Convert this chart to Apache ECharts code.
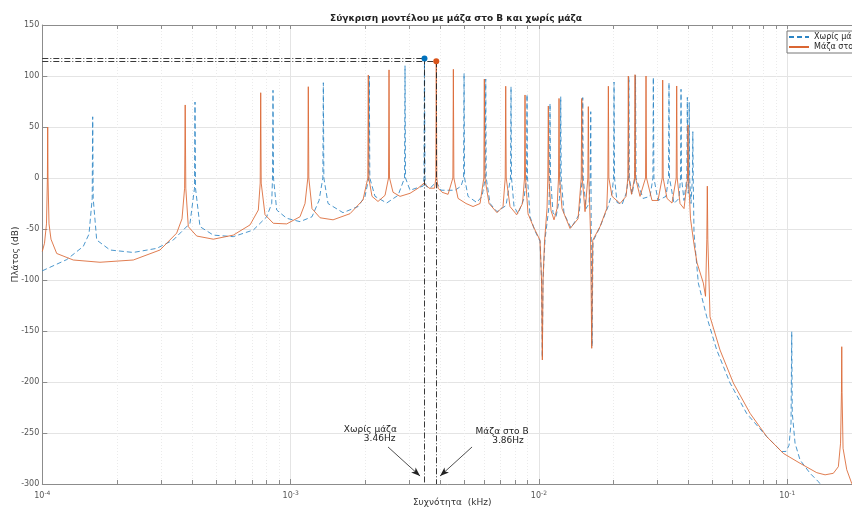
<!DOCTYPE html>
<html><head><meta charset="utf-8">
<script src="https://cdn.jsdelivr.net/npm/echarts@6/dist/echarts.min.js"></script>
<style>html,body{margin:0;padding:0;background:#fff}#c{width:852px;height:511px}</style>
</head><body><div id="c"></div>
<script>
// ---- data (frequency in kHz, amplitude in dB) ----
const noMassFreq = [1.0000e-4,1.2540e-4,1.4627e-4,1.5420e-4,1.5884e-4,1.5958e-4,1.6032e-4,1.6560e-4,1.8740e-4,2.3253e-4,2.8889e-4,3.3692e-4,3.9338e-4,4.1018e-4,4.1208e-4,4.1400e-4,4.3161e-4,4.8844e-4,5.8775e-4,7.0775e-4,8.0116e-4,8.3918e-4,8.4544e-4,8.4937e-4,8.5331e-4,8.7900e-4,9.6448e-4,1.0910e-3,1.2194e-3,1.3017e-3,1.3483e-3,1.3546e-3,1.3609e-3,1.4147e-3,1.6256e-3,1.8680e-3,1.9935e-3,2.0648e-3,2.0745e-3,2.0841e-3,2.1869e-3,2.4382e-3,2.7078e-3,2.8757e-3,2.8890e-3,2.9025e-3,3.0261e-3,3.1999e-3,3.4147e-3,3.4441e-3,3.4600e-3,3.4761e-3,3.5111e-3,3.6438e-3,3.8600e-3,4.0352e-3,4.2662e-3,4.5943e-3,4.8572e-3,4.9710e-3,4.9942e-3,5.0174e-3,5.1830e-3,5.6174e-3,5.9008e-3,6.0783e-3,6.1065e-3,6.1349e-3,6.3548e-3,6.7800e-3,7.3704e-3,7.6842e-3,7.7199e-3,7.7559e-3,7.9377e-3,8.2374e-3,8.7093e-3,8.9136e-3,8.9550e-3,8.9966e-3,9.2082e-3,9.6447e-3,1.0103e-2,1.0244e-2,1.0320e-2,1.0387e-2,1.0582e-2,1.0981e-2,1.1032e-2,1.1083e-2,1.1134e-2,1.1396e-2,1.1717e-2,1.2104e-2,1.2183e-2,1.2240e-2,1.2297e-2,1.2619e-2,1.3470e-2,1.4505e-2,1.4943e-2,1.5012e-2,1.5082e-2,1.5477e-2,1.5914e-2,1.6092e-2,1.6167e-2,1.6242e-2,1.6363e-2,1.6515e-2,1.7621e-2,1.8984e-2,1.9700e-2,1.9975e-2,2.0068e-2,2.0161e-2,2.0633e-2,2.1612e-2,2.2533e-2,2.2912e-2,2.3018e-2,2.3125e-2,2.3712e-2,2.4378e-2,2.4492e-2,2.4606e-2,2.6256e-2,2.8035e-2,2.8773e-2,2.8888e-2,2.9041e-2,3.0164e-2,3.2487e-2,3.3248e-2,3.3403e-2,3.3558e-2,3.4988e-2,3.6659e-2,3.7172e-2,3.7345e-2,3.7518e-2,3.8398e-2,3.9409e-2,3.9592e-2,3.9776e-2,3.9924e-2,4.0147e-2,4.0296e-2,4.0446e-2,4.0973e-2,4.1508e-2,4.1662e-2,4.1817e-2,4.2120e-2,4.3836e-2,4.7388e-2,5.2003e-2,5.8838e-2,6.8704e-2,8.2713e-2,9.5031e-2,9.8893e-2,1.0168e-1,1.0358e-1,1.0425e-1,1.0474e-1,1.0750e-1,1.1262e-1,1.2357e-1,1.3344e-1,1.4203e-1];
const noMassDb = [-91,-80,-67,-55,-20,60,-20,-60.8,-70.6,-73,-69,-60.8,-44.4,-10,74.5,-10,-47.7,-56,-57.5,-51,-38,-25,0,86,0,-31.4,-39.5,-42.8,-38,-22,0,93.4,0,-25,-34,-28,-18,0,100,0,-18,-24.5,-17,0,110,0,-12,-10,-8,0,117.2,0,-8,-10,-4,-12,-12,-12,-8,0,102.6,0,-18,-24,-18,0,97,0,-25,-33,-27,0,89.5,0,-28,-35,-20,0,82,0,-38,-52,-62,-100,-176,-100,-60,-28,0,73,0,-34,-38,-20,0,79.7,0,-35,-49,-36,0,78.8,0,-30,-25,0,65,-60,-165,-62,-48,-28,-15,0,94.1,0,-24,-26,-14,0,99,0,-16,0,100.5,0,-20,-18,0,98.7,0,-22,-18,0,93.4,0,-25,-20,0,87,0,-22,0,79,0,-15,0,74,0,-25,0,45.4,0,-54,-103,-136,-168.6,-201,-231,-253.6,-268.3,-268,-262,-240,-150.7,-230,-260,-276.5,-289.5,-297.7,-306];

const massFreq = [1.0000e-4,1.0206e-4,1.0397e-4,1.0484e-4,1.0514e-4,1.0543e-4,1.0641e-4,1.0840e-4,1.1429e-4,1.3327e-4,1.7077e-4,2.3253e-4,2.9785e-4,3.4770e-4,3.6525e-4,3.7416e-4,3.7624e-4,3.7834e-4,3.8726e-4,4.1862e-4,4.8844e-4,5.8775e-4,6.8642e-4,7.4118e-4,7.5435e-4,7.5785e-4,7.6138e-4,7.8868e-4,8.5175e-4,9.6448e-4,1.0910e-3,1.1429e-3,1.1729e-3,1.1783e-3,1.1838e-3,1.2194e-3,1.3138e-3,1.4821e-3,1.7346e-3,1.9567e-3,2.0458e-3,2.0553e-3,2.0648e-3,2.1270e-3,2.2486e-3,2.4001e-3,2.4792e-3,2.4907e-3,2.5023e-3,2.5849e-3,2.7584e-3,3.0261e-3,3.2600e-3,3.4466e-3,3.6102e-3,3.7995e-3,3.8438e-3,3.8600e-3,3.8796e-3,3.9245e-3,4.0728e-3,4.3060e-3,4.5018e-3,4.5227e-3,4.5438e-3,4.7233e-3,5.0865e-3,5.4278e-3,5.7925e-3,5.9999e-3,6.0278e-3,6.0559e-3,6.2961e-3,6.7800e-3,7.1683e-3,7.3159e-3,7.3499e-3,7.3840e-3,7.6487e-3,8.1385e-3,8.5883e-3,8.7498e-3,8.7905e-3,8.8314e-3,9.0383e-3,9.4937e-3,1.0103e-2,1.0244e-2,1.0320e-2,1.0387e-2,1.0533e-2,1.0779e-2,1.0859e-2,1.0910e-2,1.0961e-2,1.1186e-2,1.1502e-2,1.1826e-2,1.1992e-2,1.2048e-2,1.2104e-2,1.2388e-2,1.3346e-2,1.4372e-2,1.4805e-2,1.4873e-2,1.4943e-2,1.5334e-2,1.5738e-2,1.5811e-2,1.5885e-2,1.6137e-2,1.6317e-2,1.6469e-2,1.7621e-2,1.8756e-2,1.8949e-2,1.9037e-2,1.9126e-2,1.9700e-2,2.1213e-2,2.2428e-2,2.2806e-2,2.2912e-2,2.3018e-2,2.3602e-2,2.4266e-2,2.4378e-2,2.4492e-2,2.5534e-2,2.6869e-2,2.6994e-2,2.7120e-2,2.8531e-2,3.0164e-2,3.1362e-2,3.1508e-2,3.1654e-2,3.2789e-2,3.4345e-2,3.5710e-2,3.5875e-2,3.6042e-2,3.7000e-2,3.8398e-2,3.9666e-2,3.9850e-2,4.0036e-2,4.0784e-2,4.2120e-2,4.3310e-2,4.5920e-2,4.6866e-2,4.7433e-2,4.7653e-2,4.7875e-2,4.8862e-2,5.3608e-2,6.0668e-2,7.0838e-2,8.2713e-2,9.6448e-2,1.1262e-1,1.3150e-1,1.4203e-1,1.5335e-1,1.6062e-1,1.6393e-1,1.6531e-1,1.6577e-1,1.6623e-1,1.6778e-1,1.7363e-1,1.8187e-1,1.9000e-1];
const massDb = [-72,-64,-45,0,50,0,-45,-60,-74,-80.4,-82.6,-80.4,-70.6,-54,-40,-10,71.6,-10,-47.7,-56.9,-60,-56,-46,-31.4,-5,83.6,-5,-36,-44.4,-45,-38,-25,0,89.5,0,-30,-39,-41,-35,-21.5,0,101,0,-18,-23,-17,0,106,0,-14,-18,-15,-10,-5,-10,-10,0,114.4,0,-10,-14,-16,0,106.6,0,-20,-25,-28,-25,0,97,0,-25,-34,-28,0,90,0,-28,-36,-25,0,81.4,0,-35,-47.7,-61,-100,-178.4,-100,-62,-30,0,70.6,0,-32,-41,-30,0,78,0,-30,-49.5,-40,0,78,0,-33,0,70,0,-55,-167,-61,-47.7,-30,0,90,0,-18,-25,-18,0,100,0,-16,0,101.3,0,-18,0,100,0,-22,-22,0,96,0,-20,-24.6,0,90.2,0,-25,-30,0,52,0,-40,-65,-83,-103,-116,-60,-8,-60,-136,-168.6,-201,-230.7,-253.6,-270,-279.7,-288.9,-291,-289.5,-283,-260,-210,-165.4,-210,-265,-286,-299.5,-310];

const seriesNames = ['Χωρίς μάζα', 'Μάζα στο Β'];
const peakFreq = [0.00346, 0.00386];
const peakDb = [117.2, 114.4];
const noteLine1 = ['Χωρίς μάζα', 'Μάζα στο Β'];
const noteLine2 = ['3.46Hz', '3.86Hz'];
const note1Pos = [[1.6305e-3, -247.1], [5.5297e-3, -249.0]];
const note2Pos = [[1.9628e-3, -255.4], [6.4551e-3, -257.8]];
const arrowFrom = [[2.4677e-3, -263.7], [5.3777e-3, -263.7]];
const arrowTo = [[3.3210e-3, -292.2], [3.9979e-3, -292.2]];

const majorTicks = [1e-4, 1e-3, 1e-2, 1e-1];
const minorTicks = [2e-4,3e-4,4e-4,5e-4,6e-4,7e-4,8e-4,9e-4,2e-3,3e-3,4e-3,5e-3,6e-3,7e-3,8e-3,9e-3,2e-2,3e-2,4e-2,5e-2,6e-2,7e-2,8e-2,9e-2];
const xMin = 1e-4, xMax = 0.2, yMin = -300, yMax = 150;

const zip = (a, b) => a.map((v, i) => [v, b[i]]);
const colors = ['#2a84c4', '#da6632'];
const markerColors = ['#0072BD', '#D95319'];
const dashDot = [6, 2, 1, 2];

function refLines(i) {
  return [
    [{coord: [xMin, peakDb[i]]}, {coord: [peakFreq[i], peakDb[i]]}],
    [{coord: [peakFreq[i], peakDb[i]]}, {coord: [peakFreq[i], yMin]}],
    [{coord: arrowFrom[i], symbol: 'none', lineStyle: {type: 'solid', color: '#222', width: 0.8}},
     {coord: arrowTo[i], symbol: 'arrow', symbolSize: [5, 9], lineStyle: {type: 'solid', color: '#222', width: 0.8}}]
  ];
}
function notes(i) {
  const lbl = (t) => ({show: true, position: 'right', distance: 0, formatter: t, color: '#222', fontSize: 9, fontFamily: 'DejaVu Sans'});
  return [
    {coord: [peakFreq[i], peakDb[i]], symbol: 'circle', symbolSize: 6, itemStyle: {color: markerColors[i]}, label: {show: false}},
    {coord: note1Pos[i], symbol: 'rect', symbolSize: 1, itemStyle: {color: 'rgba(0,0,0,0)'}, label: lbl(noteLine1[i])},
    {coord: note2Pos[i], symbol: 'rect', symbolSize: 1, itemStyle: {color: 'rgba(0,0,0,0)'}, label: lbl(noteLine2[i])}
  ];
}
function mkSeries(i, freq, db, lineType) {
  return {
    name: seriesNames[i], type: 'line', xAxisIndex: 0, yAxisIndex: 0,
    data: zip(freq, db), symbol: 'none', showSymbol: false, symbolSize: 0, clip: true,
    lineStyle: {color: colors[i], width: 0.85, type: lineType},
    itemStyle: {color: colors[i]},
    markLine: {silent: true, animation: false, symbol: ['none', 'none'], label: {show: false},
      lineStyle: {color: '#222', width: 0.9, type: dashDot}, data: refLines(i)},
    markPoint: {silent: true, animation: false, data: notes(i)}
  };
}

const supFmt = (v) => '{a|10}{b|' + Math.round(Math.log10(v)) + '}';
const chart = echarts.init(document.getElementById('c'), null, {renderer: 'canvas'});
chart.setOption({
  animation: false,
  backgroundColor: '#fff',
  textStyle: {fontFamily: 'DejaVu Sans'},
  title: {text: 'Σύγκριση μοντέλου με μάζα στο Β και χωρίς μάζα', left: 451, textAlign: 'center', top: 9,
    textStyle: {fontSize: 9, fontWeight: 'bold', color: '#222', fontFamily: 'DejaVu Sans'}},
  legend: {data: seriesNames, orient: 'vertical', left: 787, top: 31, itemWidth: 20, itemHeight: 8, itemGap: 2,
    itemStyle: {color: 'rgba(0,0,0,0)', borderWidth: 0, opacity: 0},
    textStyle: {fontSize: 8, color: '#222'}, borderColor: '#777', borderWidth: 1, borderRadius: 0,
    backgroundColor: '#fff', padding: [2, 4, 2, 1]},
  grid: {left: 42.3, right: -10, top: 25, bottom: 27, containLabel: false, outerBoundsMode: 'none'},
  xAxis: [
    {type: 'log', logBase: 10, min: xMin, max: xMax, position: 'bottom',
      name: 'Συχνότητα  (kHz)', nameLocation: 'middle', nameGap: 14, nameMoveOverlap: false,
      nameTextStyle: {fontSize: 9, color: '#333'},
      axisLine: {show: true, onZero: false, lineStyle: {color: '#8c8c8c', width: 1}},
      axisTick: {show: true, inside: true, length: 5, customValues: majorTicks, lineStyle: {color: '#8c8c8c'}},
      axisLabel: {show: true, customValues: majorTicks, margin: 6, formatter: supFmt, color: '#555',
        rich: {a: {fontSize: 8, color: '#555'}, b: {fontSize: 6, color: '#555', padding: [0, 0, 6, 0]}}},
      splitLine: {show: true, lineStyle: {color: '#e4e4e4', width: 1}}},
    {type: 'log', logBase: 10, min: xMin, max: xMax, position: 'bottom',
      axisLine: {show: false, onZero: false},
      axisTick: {show: true, inside: true, length: 4, customValues: minorTicks, lineStyle: {color: '#8c8c8c'}},
      axisLabel: {show: false},
      splitLine: {show: true, lineStyle: {color: '#ebebeb', width: 1, type: [1, 2]}}},
    {type: 'log', logBase: 10, min: xMin, max: xMax, position: 'top',
      axisLine: {show: true, onZero: false, lineStyle: {color: '#8c8c8c', width: 1}},
      axisTick: {show: true, inside: true, length: 4, customValues: majorTicks.concat(minorTicks), lineStyle: {color: '#8c8c8c'}},
      axisLabel: {show: false}, splitLine: {show: false}}
  ],
  yAxis: [{type: 'value', min: yMin, max: yMax, interval: 50,
    name: 'Πλάτος (dB)', nameLocation: 'middle', nameGap: 22, nameRotate: 90, nameMoveOverlap: false,
    nameTextStyle: {fontSize: 9, color: '#333'},
    axisLine: {show: true, onZero: false, lineStyle: {color: '#8c8c8c'}},
    axisTick: {show: true, inside: true, length: 5, lineStyle: {color: '#8c8c8c'}},
    axisLabel: {fontSize: 8, color: '#555', margin: 3},
    splitLine: {show: true, lineStyle: {color: '#e4e4e4', width: 1}}}],
  series: [
    mkSeries(0, noMassFreq, noMassDb, [5, 3]),
    mkSeries(1, massFreq, massDb, 'solid')
  ]
});
</script>
</body></html>
